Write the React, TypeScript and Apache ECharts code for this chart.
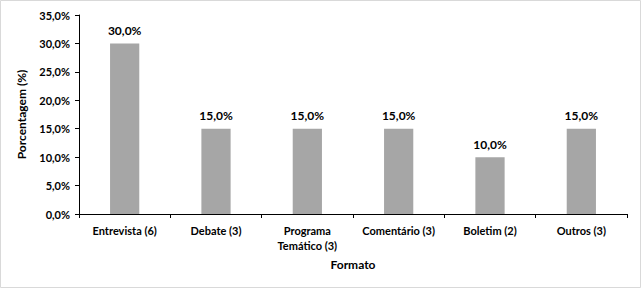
import React, { useEffect, useRef } from "react";
import * as echarts from "echarts";

const categories = ["Entrevista (6)", "Debate (3)", "Programa\nTemático (3)", "Comentário (3)", "Boletim (2)", "Outros (3)"];
const values = [30, 15, 15, 15, 10, 15];

const fmt = (v: number) => v.toFixed(1).replace(".", ",") + "%";
const FONT = "Lato";

export default function App() {
  const ref = useRef<HTMLDivElement>(null);
  useEffect(() => {
    document.body.style.margin = "0";
    const chart = echarts.init(ref.current!, undefined, { renderer: "svg" });
    chart.setOption({
      animation: false,
      backgroundColor: "#ffffff",
      graphic: [
        {
          type: "rect",
          shape: { x: 0.5, y: 0.5, width: 640, height: 287 },
          style: { fill: "none", stroke: "#d9d9d9", lineWidth: 1 },
          silent: true,
        },
      ],
      grid: { left: 79, right: 15, top: 15, bottom: 75 },
      xAxis: {
        type: "category",
        data: categories,
        name: "Formato",
        nameLocation: "middle",
        nameGap: 44,
        nameTextStyle: { fontFamily: FONT, fontWeight: "bold", fontSize: 12, color: "#000" },
        axisLine: { lineStyle: { color: "#000", width: 1 } },
        axisTick: { show: true, alignWithLabel: false, length: 4, lineStyle: { color: "#000" } },
        axisLabel: {
          fontFamily: FONT,
          fontWeight: "bold",
          fontSize: 11,
          color: "#000",
          margin: 9,
          lineHeight: 15,
          interval: 0,
        },
      },
      yAxis: {
        type: "value",
        min: 0,
        max: 35,
        interval: 5,
        name: "Porcentagem (%)",
        nameLocation: "middle",
        nameGap: 52,
        nameTextStyle: { fontFamily: FONT, fontWeight: "bold", fontSize: 12, color: "#000" },
        axisLine: { show: true, lineStyle: { color: "#000", width: 1 } },
        axisTick: { show: true, length: 4, lineStyle: { color: "#000" } },
        splitLine: { show: false },
        axisLabel: {
          fontFamily: FONT,
          fontWeight: "bold",
          fontSize: 11,
          color: "#000",
          margin: 9,
          formatter: (v: number) => fmt(v),
        },
      },
      series: [
        {
          type: "bar",
          data: values,
          barWidth: "32%",
          itemStyle: { color: "#a6a6a6" },
          label: {
            show: true,
            position: "top",
            distance: 7,
            fontFamily: FONT,
            fontWeight: "bold",
            fontSize: 12,
            color: "#000",
            formatter: (p: any) => fmt(p.value),
          },
        },
      ],
    });
    return () => chart.dispose();
  }, []);
  return <div ref={ref} style={{ width: 642, height: 289 }} />;
}
